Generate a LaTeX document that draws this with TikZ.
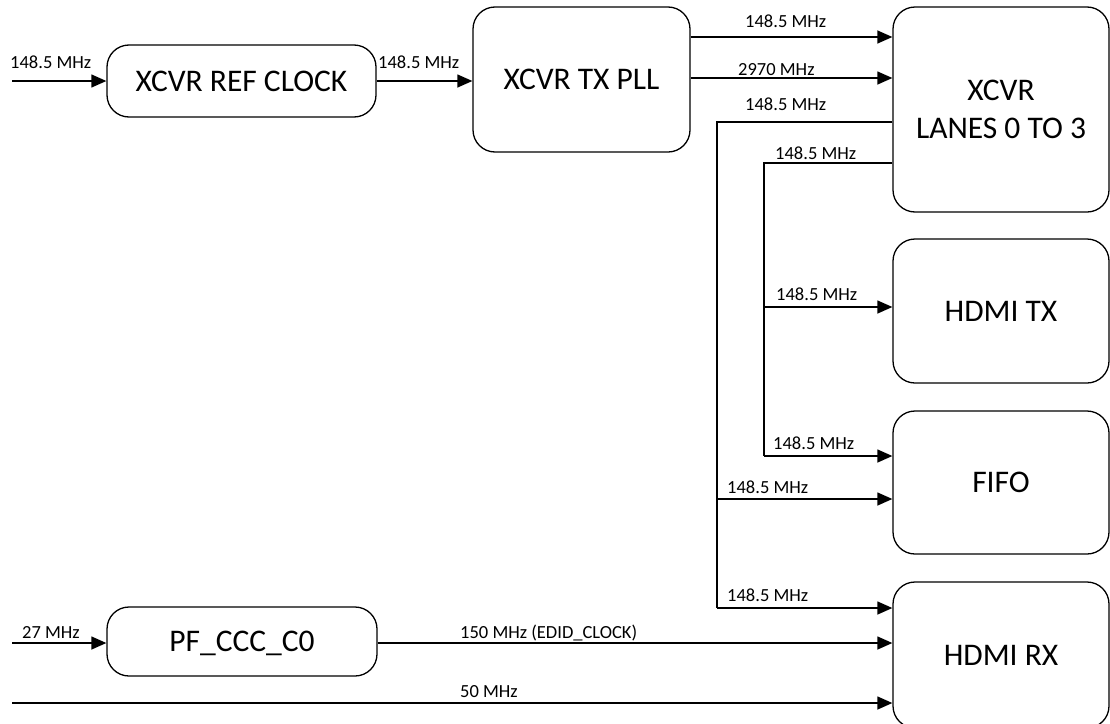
\documentclass[tikz,border=0pt]{standalone}
\usepackage{fontspec}
\setmainfont{Carlito}
\usetikzlibrary{arrows.meta}
\begin{document}
\begin{tikzpicture}[x=1pt,y=-1pt,
  box/.style={draw, line width=1.3pt, rounded corners=22pt, inner sep=0pt,
    font=\fontsize{31.5}{38}\selectfont, align=center},
  onel/.style={text height=20.3pt, text depth=0pt},
  wire/.style={line width=1.3pt},
  arr/.style={wire, -{Triangle[length=15pt,width=13pt]}},
  lbl/.style={anchor=base west, inner sep=0pt, font=\fontsize{18.5}{20}\selectfont}]
\useasboundingbox (0,0) rectangle (1110,723);
\clip (0,0) rectangle (1110,723);

% boxes
\node[box,onel,minimum width=269pt,minimum height=72pt] (refclk) at (241.5,81) {XCVR REF CLOCK};
\node[box,onel,minimum width=217pt,minimum height=145pt] (txpll) at (581.5,79.5) {XCVR TX PLL};
\node[box,minimum width=216pt,minimum height=205pt] (lanes) at (1001,109.5) {XCVR\\LANES 0 TO 3};
\node[box,onel,minimum width=216pt,minimum height=144pt] (hdmitx) at (1001,311) {HDMI TX};
\node[box,onel,minimum width=216pt,minimum height=143pt] (fifo) at (1001,482.5) {FIFO};
\node[box,onel,minimum width=216pt,minimum height=146pt] (hdmirx) at (1001,655) {HDMI RX};
\node[box,onel,minimum width=270pt,minimum height=69pt] (pfccc) at (242,641.5) {PF\_CCC\_C0};

% free ends and junctions
\coordinate (in1) at (12,81);
\coordinate (in27) at (12,643);
\coordinate (in50) at (12,703);
\coordinate (ja1) at (717,122);
\coordinate (ja2) at (717,608);
\coordinate (ja3) at (717,499);
\coordinate (jb1) at (764,163);
\coordinate (jb2) at (764,456);
\coordinate (jb3) at (764,307);

% connectors
\draw[arr] (in1) -- (refclk.west |- in1);
\draw[arr] (refclk.east |- in1) -- (txpll.west |- in1);
\draw[arr] (txpll.east |- 0,37) -- (lanes.west |- 0,37);
\draw[arr] (txpll.east |- 0,78) -- (lanes.west |- 0,78);
\draw[wire] (lanes.west |- ja1) -- (ja1) -- (ja2);
\draw[arr] (ja2) -- (hdmirx.west |- ja2);
\draw[arr] (ja3) -- (fifo.west |- ja3);
\draw[wire] (lanes.west |- jb1) -- (jb1) -- (jb2);
\draw[arr] (jb2) -- (fifo.west |- jb2);
\draw[arr] (jb3) -- (hdmitx.west |- jb3);
\draw[arr] (in27) -- (pfccc.west |- in27);
\draw[arr] (pfccc.east |- in27) -- (hdmirx.west |- in27);
\draw[arr] (in50) -- (hdmirx.west |- in50);

% labels
\node[lbl] (l1) at (10,68) {148.5 MHz};
\node[lbl] (l2) at (378,68) {148.5 MHz};
\node[lbl] (l3) at (745,27) {148.5 MHz};
\node[lbl] (l4) at (738,75) {2970 MHz};
\node[lbl] (l5) at (745,110) {148.5 MHz};
\node[lbl] (l6) at (775,159) {148.5 MHz};
\node[lbl] (l7) at (776,300) {148.5 MHz};
\node[lbl] (l8) at (773,449) {148.5 MHz};
\node[lbl] (l9) at (727,493) {148.5 MHz};
\node[lbl] (l10) at (727,601) {148.5 MHz};
\node[lbl] (l11) at (22,638) {27 MHz};
\node[lbl] (l12) at (460,638) {150 MHz (EDID\_CLOCK)};
\node[lbl] (l13) at (460,697) {50 MHz};
\end{tikzpicture}
\end{document}
